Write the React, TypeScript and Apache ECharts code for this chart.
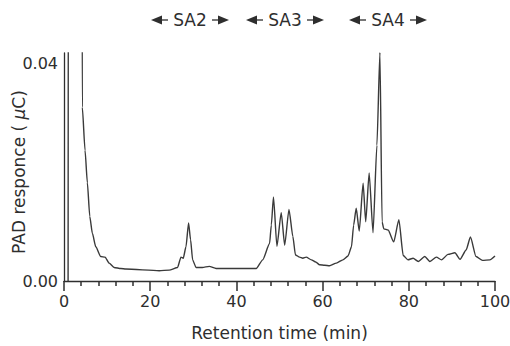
import { useEffect, useRef } from "react";
import * as echarts from "echarts";

// Retention time (min) and PAD response (µC)
const retentionTime = [
  0.95, 1.05, 4.1, 4.25, 4.88, 5.42, 5.98, 6.58, 7.37, 8.53, 9.53, 10.47, 11.63, 13.19, 14.35,
  22.1, 24.4, 26.35, 27.14, 27.67, 28.3, 28.9, 29.37, 29.84, 30.63, 32.1, 33.7, 35.3,
  44.6, 46.1, 47.7, 48.1, 48.6, 49.4, 50.4, 51.2, 52.2, 53.1, 53.7, 54.65, 55.4, 56.2,
  57.4, 58.4, 59.3, 60.5, 61.6, 63.2, 64.7, 65.9, 66.7, 67.2, 67.8, 68.5, 69.4, 70.0,
  70.8, 71.7, 72.6, 73.3, 73.8, 74.2, 75.2, 76.5, 77.7, 78.7, 79.8, 81.0, 82.2, 83.7,
  84.9, 86.4, 87.6, 89.1, 90.7, 91.9, 93.3, 94.3, 95.6, 97.1, 98.8, 100,
];
const padResponse = [
  0, 0.1, 0.1, 0.032, 0.0241, 0.0181, 0.0119, 0.0088, 0.0063, 0.0045, 0.0044, 0.0033, 0.0025, 0.0023, 0.0022,
  0.0019, 0.002, 0.0025, 0.0044, 0.0042, 0.0063, 0.0107, 0.0076, 0.0039, 0.0025, 0.0025, 0.0027, 0.0023,
  0.0023, 0.0039, 0.0069, 0.0103, 0.0155, 0.0064, 0.0126, 0.0066, 0.0132, 0.0082, 0.0048, 0.0044, 0.0042, 0.0044,
  0.0039, 0.0035, 0.003, 0.0029, 0.0028, 0.0033, 0.0039, 0.0046, 0.0063, 0.0103, 0.0134, 0.0092, 0.018, 0.0109,
  0.0199, 0.0089, 0.025, 0.0421, 0.0109, 0.0096, 0.0094, 0.0072, 0.0113, 0.0047, 0.0039, 0.0042, 0.0036, 0.0045,
  0.0036, 0.0044, 0.0039, 0.0049, 0.0052, 0.004, 0.0057, 0.0081, 0.0045, 0.0038, 0.0039, 0.0046,
];
const yTickValues = [0, 0.04];
const fractionLabels = ["SA2", "SA3", "SA4"];
const fractionCentres = [190, 285, 388];

const FONT = "DejaVu Sans";
const INK = "#2e2e2e";

function fractionMarker(label: string, cx: number) {
  const cy = 20;
  return {
    type: "group",
    children: [
      { type: "polygon", shape: { points: [[cx - 39, cy], [cx - 28, cy - 4.5], [cx - 28, cy + 4.5]] }, style: { fill: INK } },
      { type: "line", shape: { x1: cx - 28, y1: cy, x2: cx - 22, y2: cy }, style: { stroke: INK, lineWidth: 1.3 } },
      {
        type: "text",
        x: cx,
        y: cy,
        style: { text: label, fontFamily: FONT, fontSize: 17, fill: INK, align: "center", verticalAlign: "middle" },
      },
      { type: "line", shape: { x1: cx + 22, y1: cy, x2: cx + 28, y2: cy }, style: { stroke: INK, lineWidth: 1.3 } },
      { type: "polygon", shape: { points: [[cx + 39, cy], [cx + 28, cy - 4.5], [cx + 28, cy + 4.5]] }, style: { fill: INK } },
    ],
  };
}

export default function App() {
  const ref = useRef<HTMLDivElement>(null);
  useEffect(() => {
    if (!ref.current) return;
    const chart = echarts.init(ref.current, undefined, { renderer: "svg" });
    chart.setOption({
      animation: false,
      backgroundColor: "#ffffff",
      grid: { left: 64, right: 15, top: 53, bottom: 65, containLabel: false, outerBoundsMode: "none" },
      xAxis: {
        type: "value",
        min: 0,
        max: 100,
        interval: 20,
        name: "Retention time (min)",
        nameLocation: "middle",
        nameGap: 43,
        nameTextStyle: { fontFamily: FONT, fontSize: 17, color: INK },
        axisLine: { show: true, lineStyle: { color: INK, width: 1.3 } },
        axisTick: { show: true, inside: false, length: 10, lineStyle: { color: INK, width: 1.5 } },
        minorTick: { show: true, splitNumber: 5, length: 5, lineStyle: { color: INK, width: 1.5 } },
        axisLabel: { fontFamily: FONT, fontSize: 16, color: INK, margin: 12 },
        splitLine: { show: false },
      },
      yAxis: {
        type: "value",
        min: 0,
        max: 0.042,
        axisLine: { show: true, lineStyle: { color: INK, width: 1.3 } },
        axisTick: { show: false },
        axisLabel: {
          fontFamily: FONT,
          fontSize: 16,
          color: INK,
          margin: 6,
          customValues: yTickValues,
          formatter: (v: number) => v.toFixed(2),
        },
        splitLine: { show: false },
      },
      series: [
        {
          type: "line",
          data: retentionTime.map((t, i) => [t, padResponse[i]]),
          showSymbol: false,
          clip: true,
          smooth: 0.2,
          smoothMonotone: "x",
          lineStyle: { color: "#3a3a3a", width: 1.4 },
        },
      ],
      graphic: [
        ...fractionLabels.map((l, i) => fractionMarker(l, fractionCentres[i])),
        {
          type: "text",
          x: 19,
          y: 172,
          rotation: Math.PI / 2,
          style: {
            text: "PAD responce ( {i|μ}C)",
            fontFamily: FONT,
            fontSize: 17,
            fill: INK,
            align: "center",
            verticalAlign: "middle",
            rich: { i: { fontFamily: FONT, fontSize: 17, fontStyle: "italic", fill: INK } },
          },
        },
      ],
    });
    return () => chart.dispose();
  }, []);
  return <div ref={ref} style={{ position: "fixed", left: 0, top: 0, width: 510, height: 346 }} />;
}
